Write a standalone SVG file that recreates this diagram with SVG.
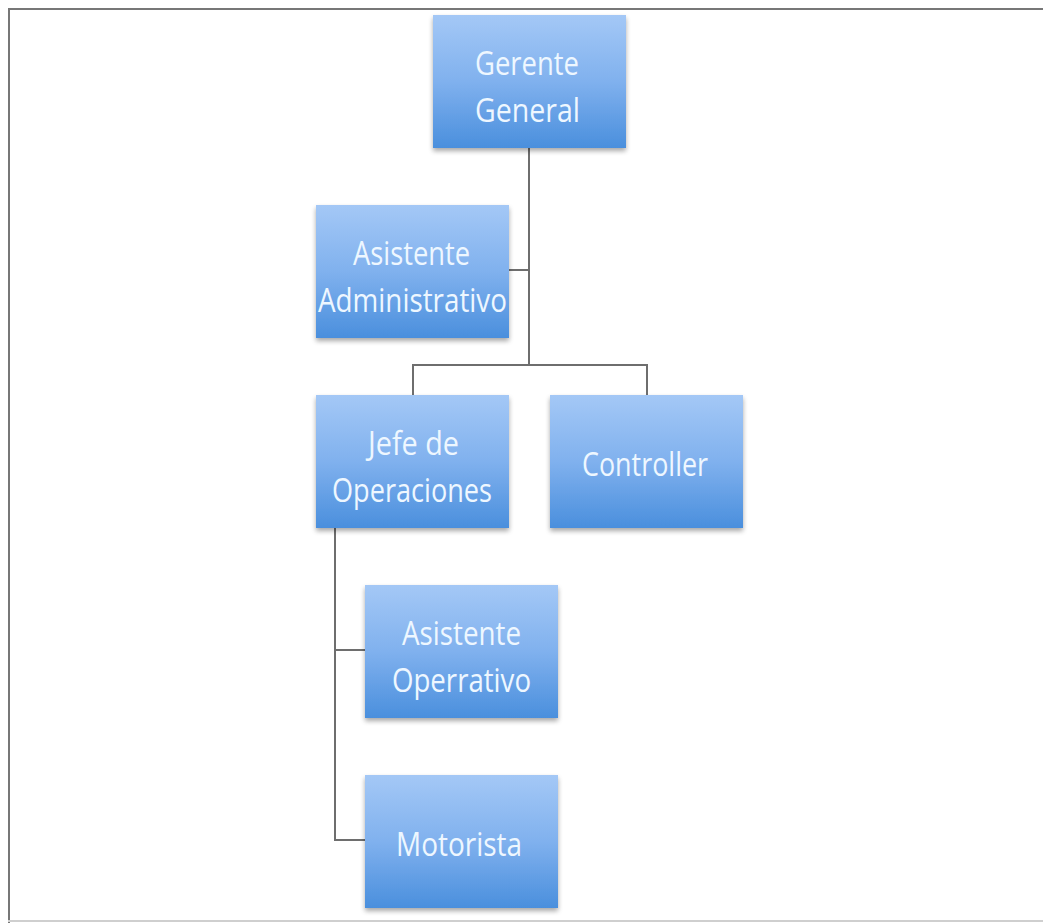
<svg xmlns="http://www.w3.org/2000/svg" width="1043" height="923" viewBox="0 0 1043 923">
<defs>
<linearGradient id="g" x1="0" y1="0" x2="0" y2="1">
<stop offset="0" stop-color="#a4c8f6"/>
<stop offset="0.5" stop-color="#80b1ee"/>
<stop offset="1" stop-color="#4a8fdd"/>
</linearGradient>
<filter id="sh" x="-10%" y="-10%" width="120%" height="125%">
<feGaussianBlur in="SourceAlpha" stdDeviation="2.5"/>
<feOffset dx="0" dy="3" result="b"/>
<feComponentTransfer><feFuncA type="linear" slope="0.35"/></feComponentTransfer>
<feMerge><feMergeNode/><feMergeNode in="SourceGraphic"/></feMerge>
</filter>
</defs>
<style>
.box{fill:url(#g);filter:url(#sh)}
.t{font-family:"Open Sans","Liberation Sans",sans-serif;font-size:33px;fill:#eef7ff;text-anchor:middle}
.c{fill:none;stroke:#6e6e6e;stroke-width:2}
</style>
<rect x="0" y="0" width="1043" height="923" fill="#ffffff"/>
<path d="M9 923 V9 H1043" fill="none" stroke="#777777" stroke-width="2"/>
<line x1="8" y1="921" x2="1043" y2="921" stroke="#cfcfcf" stroke-width="2"/>
<g id="connectors">
<path class="c" d="M529 148 V365"/>
<path class="c" d="M509 270 H529"/>
<path class="c" d="M413 395 V365 H647 V395"/>
<path class="c" d="M335 528 V840 H365"/>
<path class="c" d="M335 650 H365"/>
</g>
<g id="gerente">
<rect class="box" x="433" y="15" width="193" height="133"/>
<text class="t" x="527" y="75" textLength="104" lengthAdjust="spacingAndGlyphs">Gerente</text>
<text class="t" x="527.5" y="122" textLength="105" lengthAdjust="spacingAndGlyphs">General</text>
</g>
<g id="asistente-admin">
<rect class="box" x="316" y="205" width="193" height="133"/>
<text class="t" x="411.5" y="265" textLength="117" lengthAdjust="spacingAndGlyphs">Asistente</text>
<text class="t" x="412.5" y="312" textLength="189" lengthAdjust="spacingAndGlyphs">Administrativo</text>
</g>
<g id="jefe">
<rect class="box" x="316" y="395" width="193" height="133"/>
<text class="t" x="413.5" y="455" textLength="91" lengthAdjust="spacingAndGlyphs">Jefe de</text>
<text class="t" x="412" y="502" textLength="160" lengthAdjust="spacingAndGlyphs">Operaciones</text>
</g>
<g id="controller">
<rect class="box" x="550" y="395" width="193" height="133"/>
<text class="t" x="645" y="476" textLength="126" lengthAdjust="spacingAndGlyphs">Controller</text>
</g>
<g id="asistente-op">
<rect class="box" x="365" y="585" width="193" height="133"/>
<text class="t" x="461.5" y="645" textLength="119" lengthAdjust="spacingAndGlyphs">Asistente</text>
<text class="t" x="461.5" y="692" textLength="139" lengthAdjust="spacingAndGlyphs">Operrativo</text>
</g>
<g id="motorista">
<rect class="box" x="365" y="775" width="193" height="133"/>
<text class="t" x="459" y="856" textLength="126" lengthAdjust="spacingAndGlyphs">Motorista</text>
</g>
</svg>
